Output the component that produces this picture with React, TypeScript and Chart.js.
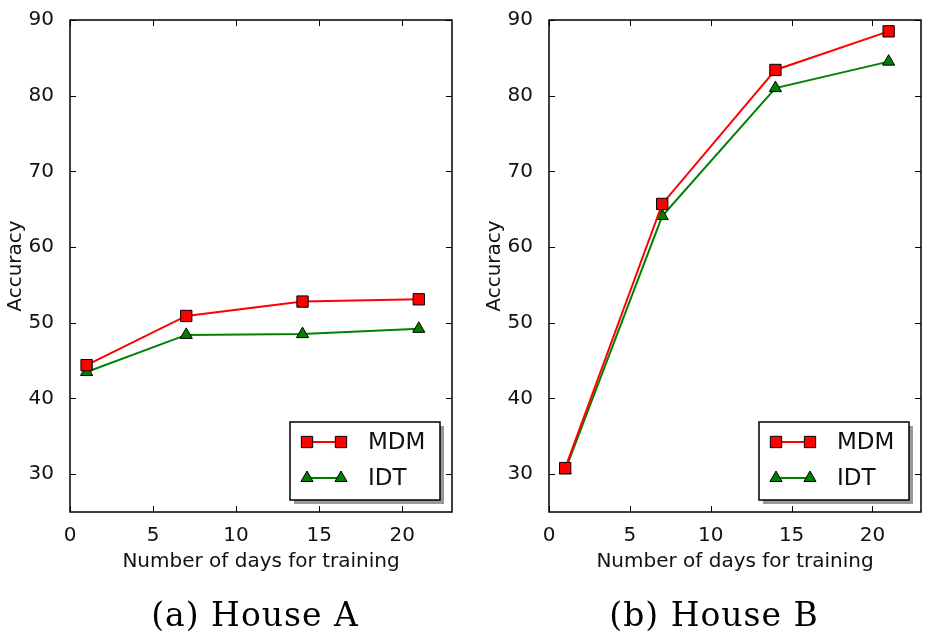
import React, { useEffect, useRef } from "react";
import { Chart, registerables } from "chart.js";
Chart.register(...registerables);

const days = [1, 7, 14, 21];
const houseA_MDM = [44.4, 50.9, 52.8, 53.1];
const houseA_IDT = [43.5, 48.4, 48.5, 49.2];
const houseB_MDM = [30.8, 65.7, 83.4, 88.5];
const houseB_IDT = [30.5, 64.1, 81.0, 84.5];
const xTicks = [0, 5, 10, 15, 20];
const yTicks = [30, 40, 50, 60, 70, 80, 90];
const seriesNames = ["MDM", "IDT"];
const captions = ["(a) House A", "(b) House B"];
const xTitle = "Number of days for training";
const yTitle = "Accuracy";

const TEXT = "#111";
const FONT = "'DejaVu Sans', sans-serif";

function drawMarker(ctx: CanvasRenderingContext2D, style: string, x: number, y: number, color: string) {
  ctx.save();
  ctx.fillStyle = color;
  ctx.strokeStyle = "#000";
  ctx.lineWidth = 1;
  ctx.beginPath();
  if (style === "rect") {
    const s = 8 * Math.SQRT1_2;
    ctx.rect(x - s, y - s, 2 * s, 2 * s);
  } else {
    const r = 7;
    let a = 0;
    ctx.moveTo(x + Math.sin(a) * r, y - Math.cos(a) * r);
    a += (2 * Math.PI) / 3;
    ctx.lineTo(x + Math.sin(a) * r, y - Math.cos(a) * r);
    a += (2 * Math.PI) / 3;
    ctx.lineTo(x + Math.sin(a) * r, y - Math.cos(a) * r);
    ctx.closePath();
  }
  ctx.fill();
  ctx.stroke();
  ctx.restore();
}

const framePlugin = {
  id: "frame",
  afterDatasetsDraw(chart: any) {
    const { ctx, chartArea } = chart;
    const { left, right, top, bottom } = chartArea;
    const xs = chart.scales.x;
    const ys = chart.scales.y;
    ctx.save();
    ctx.strokeStyle = "#000";
    ctx.lineWidth = 1;
    const tl = 6;
    ctx.beginPath();
    xTicks.forEach((v) => {
      const px = Math.round(xs.getPixelForValue(v)) + 0.5;
      ctx.moveTo(px, bottom);
      ctx.lineTo(px, bottom - tl);
      ctx.moveTo(px, top);
      ctx.lineTo(px, top + tl);
    });
    yTicks.forEach((v) => {
      const py = Math.round(ys.getPixelForValue(v)) + 0.5;
      ctx.moveTo(left, py);
      ctx.lineTo(left + tl, py);
      ctx.moveTo(right, py);
      ctx.lineTo(right - tl, py);
    });
    ctx.stroke();
    ctx.lineWidth = 1.5;
    ctx.strokeRect(left, top, right - left, bottom - top);
    ctx.restore();
  },
};

const legendPlugin = {
  id: "innerLegend",
  afterDraw(chart: any) {
    const { ctx, chartArea } = chart;
    const w = 150;
    const h = 78;
    const x1 = chartArea.right - 12 - w;
    const y1 = chartArea.bottom - 12 - h;
    ctx.save();
    ctx.fillStyle = "rgba(0,0,0,0.4)";
    ctx.fillRect(x1 + 4, y1 + 4, w, h);
    ctx.fillStyle = "#fff";
    ctx.fillRect(x1, y1, w, h);
    ctx.strokeStyle = "#000";
    ctx.lineWidth = 1.5;
    ctx.strokeRect(x1, y1, w, h);
    chart.data.datasets.forEach((ds: any, i: number) => {
      const cy = y1 + 20 + i * 36;
      const xa = x1 + 17;
      const xb = x1 + 51;
      ctx.strokeStyle = ds.borderColor;
      ctx.lineWidth = 2;
      ctx.beginPath();
      ctx.moveTo(xa, cy);
      ctx.lineTo(xb, cy);
      ctx.stroke();
      drawMarker(ctx, ds.pointStyle, xa, cy, ds.pointBackgroundColor);
      drawMarker(ctx, ds.pointStyle, xb, cy, ds.pointBackgroundColor);
      ctx.fillStyle = TEXT;
      ctx.font = `23px ${FONT}`;
      ctx.textBaseline = "middle";
      ctx.textAlign = "left";
      ctx.fillText(ds.label, x1 + 78, cy + 1);
    });
    ctx.restore();
  },
};

function makeConfig(mdm: number[], idt: number[], rightPad: number): any {
  const font = { family: FONT, size: 20 };
  return {
    type: "line",
    data: {
      datasets: [
        {
          label: seriesNames[0],
          data: days.map((d, i) => ({ x: d, y: mdm[i] })),
          borderColor: "#ff0000",
          backgroundColor: "#ff0000",
          borderWidth: 2,
          pointStyle: "rect",
          pointRadius: 8,
          pointBorderColor: "#000",
          pointBorderWidth: 1,
          pointBackgroundColor: "#ff0000",
          tension: 0,
        },
        {
          label: seriesNames[1],
          data: days.map((d, i) => ({ x: d, y: idt[i] })),
          borderColor: "#008000",
          backgroundColor: "#008000",
          borderWidth: 2,
          pointStyle: "triangle",
          pointRadius: 7,
          pointBorderColor: "#000",
          pointBorderWidth: 1,
          pointBackgroundColor: "#008000",
          tension: 0,
        },
      ],
    },
    options: {
      responsive: false,
      animation: false,
      layout: { padding: { top: 20, right: rightPad, bottom: 60, left: 0 } },
      plugins: { legend: { display: false }, tooltip: { enabled: false } },
      scales: {
        x: {
          type: "linear",
          min: 0,
          max: 23,
          afterBuildTicks: (s: any) => {
            s.ticks = xTicks.map((v) => ({ value: v }));
          },
          afterFit: (s: any) => {
            s.height = 62;
          },
          ticks: { font, color: TEXT, padding: 4, autoSkip: false, maxRotation: 0, callback: (v: any) => String(v) },
          grid: { display: false },
          border: { display: false },
          title: { display: true, text: xTitle, font, color: TEXT, padding: { top: 0, bottom: 0 } },
        },
        y: {
          type: "linear",
          min: 25,
          max: 90,
          afterBuildTicks: (s: any) => {
            s.ticks = yTicks.map((v) => ({ value: v }));
          },
          afterFit: (s: any) => {
            s.width = 70;
          },
          ticks: { font, color: TEXT, padding: 8, callback: (v: any) => String(v) },
          grid: { display: false },
          border: { display: false },
          title: { display: true, text: yTitle, font, color: TEXT, padding: { top: 3.5, bottom: 0 } },
        },
      },
    },
    plugins: [framePlugin, legendPlugin],
  };
}

function Panel(props: { mdm: number[]; idt: number[]; left: number; width: number; rightPad: number }) {
  const ref = useRef<HTMLCanvasElement | null>(null);
  useEffect(() => {
    if (!ref.current) return;
    const chart = new Chart(ref.current, makeConfig(props.mdm, props.idt, props.rightPad));
    return () => chart.destroy();
  }, []);
  return (
    <canvas
      ref={ref}
      width={props.width}
      height={634}
      style={{ position: "absolute", left: props.left, top: 0, width: props.width, height: 634, display: "block" }}
    />
  );
}

function Caption(props: { text: string; center: number }) {
  return (
    <div
      style={{
        position: "absolute",
        left: props.center - 150,
        top: 598,
        width: 300,
        textAlign: "center",
        fontFamily: "'DejaVu Serif', serif",
        fontSize: 33,
        lineHeight: "33px",
        letterSpacing: 1,
        color: "#000",
        whiteSpace: "nowrap",
      }}
    >
      {props.text}
    </div>
  );
}

export default function App() {
  return (
    <div style={{ position: "absolute", left: 0, top: 0, width: 930, height: 634, background: "#fff", overflow: "hidden" }}>
      <Panel mdm={houseA_MDM} idt={houseA_IDT} left={0} width={465} rightPad={13} />
      <Panel mdm={houseB_MDM} idt={houseB_IDT} left={479} width={451} rightPad={1} />
      <Caption text={captions[0]} center={255} />
      <Caption text={captions[1]} center={714} />
    </div>
  );
}
